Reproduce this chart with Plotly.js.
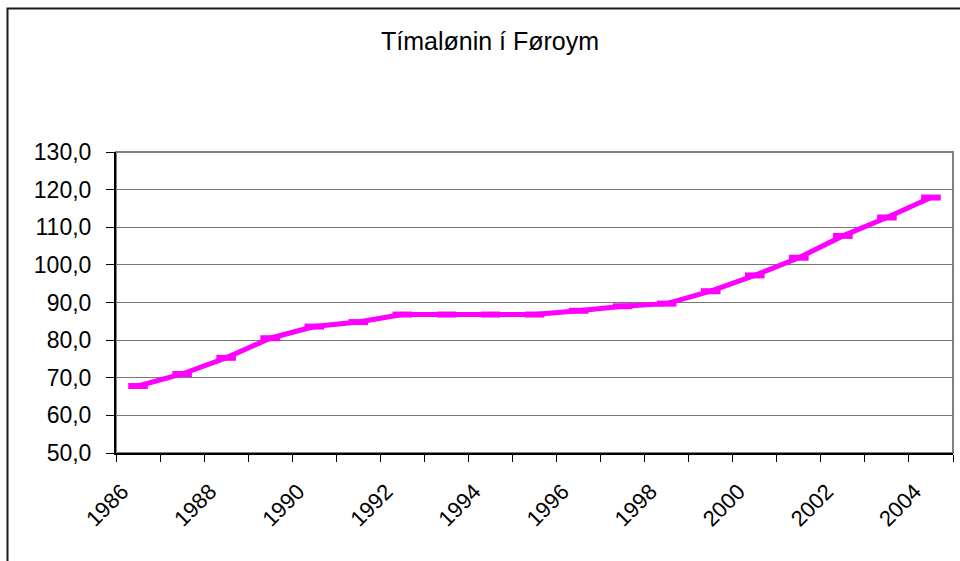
<!DOCTYPE html>
<html>
<head>
<meta charset="utf-8">
<script src="https://cdn.plot.ly/plotly-3.0.1.min.js"></script>
<style>
html,body{margin:0;padding:0;background:#fff;}
#chart{width:960px;height:561px;}
</style>
</head>
<body>
<div id="chart"></div>
<script>
var chartTitle = "Tímalønin í Føroym";
var years = [1986,1987,1988,1989,1990,1991,1992,1993,1994,1995,1996,1997,1998,1999,2000,2001,2002,2003,2004];
var wages = [67.8,71.0,75.3,80.5,83.6,84.8,86.8,86.8,86.8,86.8,87.8,89.0,89.7,93.0,97.2,101.9,107.7,112.6,117.9];
var labelYears = [1986,1988,1990,1992,1994,1996,1998,2000,2002,2004];
var labelText = labelYears.map(String);

var FONT = "Liberation Sans, Arial, sans-serif";
var W = 960, H = 561;
var L = 116, R = 7, T = 152, B = 108;
var pw = W - L - R, ph = H - T - B;
function px2paperX(x){ return (x - L) / pw; }
function px2paperY(y){ return (H - B - y) / ph; }

var trace = {
  x: years, y: wages, type: 'scatter', mode: 'lines+markers',
  line: {color: '#FF00FF', width: 5},
  marker: {symbol: 'line-ew', size: 14, color: '#FF00FF', line: {color: '#FF00FF', width: 6}},
  hoverinfo: 'x+y', showlegend: false
};

var layout = {
  width: W, height: H,
  margin: {l: L, r: R, t: T, b: B, pad: 0},
  paper_bgcolor: '#ffffff', plot_bgcolor: '#ffffff',
  separators: ', ',
  font: {family: FONT, size: 22, color: '#000'},
  title: {text: chartTitle, font: {family: FONT, size: 25, color: '#000'},
          x: 490 / W, xanchor: 'center', xref: 'container',
          y: 1 - 41 / H, yanchor: 'middle', yref: 'container'},
  xaxis: {
    type: 'linear', range: [years[0] - 0.5, years[years.length - 1] + 0.5],
    tickmode: 'array', tickvals: labelYears, ticktext: labelText,
    tickangle: -45, ticks: '', ticklabelstandoff: 15, ticklabelshift: -16,
    showgrid: false, zeroline: false,
    showline: true, linecolor: '#000', linewidth: 2,
    minor: {tick0: years[0] - 0.5, dtick: 1, ticks: 'outside', ticklen: 7, tickcolor: '#000', tickwidth: 1, showgrid: false},
    tickfont: {family: FONT, size: 22, color: '#000'},
    fixedrange: true
  },
  yaxis: {
    range: [50, 130], tickmode: 'linear', tick0: 50, dtick: 10,
    tickformat: '.1f', ticks: 'outside', ticklen: 8, tickcolor: '#000', tickwidth: 1,
    ticklabelstandoff: 10,
    showgrid: true, gridcolor: '#777777', gridwidth: 1,
    zeroline: false, showline: true, linecolor: '#000', linewidth: 2,
    tickfont: {family: FONT, size: 23, color: '#000'},
    fixedrange: true
  },
  shapes: [
    {type: 'rect', xref: 'paper', yref: 'paper', x0: 0, x1: 1, y0: 0, y1: 1,
     line: {color: '#808080', width: 2}, layer: 'below'},
    {type: 'rect', xref: 'paper', yref: 'paper',
     x0: px2paperX(7.5), x1: px2paperX(965), y0: px2paperY(566), y1: px2paperY(8.5),
     line: {color: '#1a1a1a', width: 2}, layer: 'above'}
  ]
};

Plotly.newPlot('chart', [trace], layout, {displayModeBar: false, staticPlot: true});
</script>
</body>
</html>
